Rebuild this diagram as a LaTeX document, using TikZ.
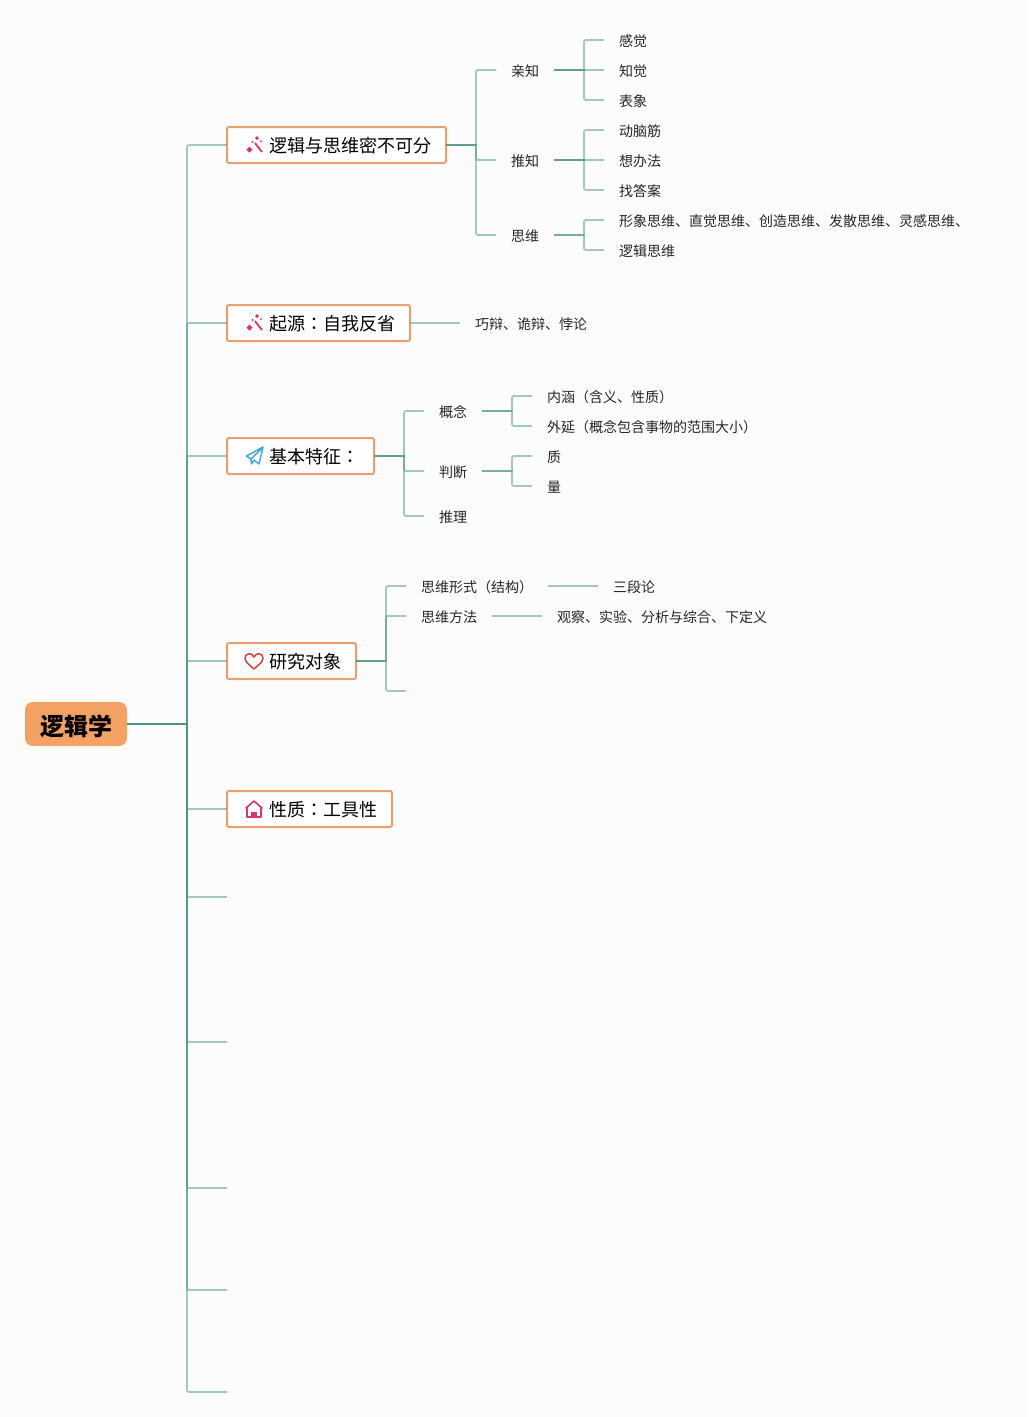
\documentclass[tikz,border=0pt]{standalone}
\usepackage{fontspec}
\setmainfont{Noto Sans CJK JP}
\definecolor{pagebg}{HTML}{FCFCFC}
\definecolor{linkgreen}{HTML}{4A9580}
\definecolor{boxorange}{HTML}{E9A06F}
\definecolor{rootorange}{HTML}{F4A264}
\definecolor{wandpink}{HTML}{E0306A}
\definecolor{planeblue}{HTML}{3BA6DC}
\definecolor{heartred}{HTML}{D0433A}
\definecolor{housepink}{HTML}{D8366C}
\tikzset{
  rootbox/.style={fill=rootorange,rounded corners=8pt,anchor=west,inner xsep=15pt,inner ysep=0pt,
    minimum height=44pt,outer sep=0pt,font=\fontsize{24}{24}\selectfont\bfseries,text height=22pt,text depth=0pt},
  mainbox/.style={draw=boxorange,fill=white,line width=2pt,rounded corners=2pt,anchor=west,inner xsep=15pt,
    inner ysep=0pt,minimum height=36pt,outer sep=0pt,font=\fontsize{18}{18}\selectfont,text height=16pt,text depth=1pt},
  leaf/.style={anchor=west,inner xsep=15pt,inner ysep=0pt,outer sep=0pt,
    font=\fontsize{14}{14}\selectfont,text height=13pt,text depth=1pt,text=black!85},
  branch/.style={draw=linkgreen,draw opacity=0.5,line width=1.8pt},
  softcorner/.style={rounded corners=2pt},
  wandicon/.pic={
    \draw[wandpink,line width=1.8pt] (9,-2) -- (16,7);
    \fill[wandpink] (3.5,1.5) -- (6.5,4.5) -- (3.5,7.5) -- (0.5,4.5) -- cycle;
    \fill[wandpink] (11,-9) -- (13,-7) -- (11,-5) -- (9,-7) -- cycle;
    \fill[wandpink] (6.5,-3) circle (1.2);
    \fill[wandpink] (15,-4) circle (1);
  },
  planeicon/.pic={
    \draw[planeblue,line width=1.4pt,line join=round] (17,-9) -- (0.5,0) -- (5,3) -- (17,-9) -- (13,8) -- (8,4)
      -- (5.5,8) -- (5,3);
  },
  hearticon/.pic={
    \draw[heartred,line width=1.5pt,line join=round] (9,8) .. controls (4,3.5) and (0,1) .. (0,-3)
      .. controls (0,-8) and (7,-9) .. (9,-4) .. controls (11,-9) and (18,-8) .. (18,-3)
      .. controls (18,1) and (14,3.5) .. (9,8) -- cycle;
  },
  houseicon/.pic={
    \draw[housepink,line width=1.6pt,line join=round] (1,-1) -- (9,-8) -- (17,-1) -- (16,-1) -- (16,8) -- (2,8) -- (2,-1) -- cycle;
    \fill[housepink] (6,8) -- (6,3) -- (12,3) -- (12,8) -- cycle;
  }
}
\begin{document}
\begin{tikzpicture}[x=1pt,y=-1pt]
  % Page
  \fill[pagebg] (0,0) rectangle (1029,1417);
  \useasboundingbox (0,0) rectangle (1029,1417);

  % Root and main topics
  \node[rootbox] (root) at (25,724) {逻辑学};
  \node[mainbox] (mainA) at (227,145) {\hspace*{27pt}逻辑与思维密不可分};
  \node[mainbox] (mainB) at (227,323) {\hspace*{27pt}起源：自我反省};
  \node[mainbox] (mainC) at (227,456) {\hspace*{27pt}基本特征：};
  \node[mainbox] (mainD) at (227,661) {\hspace*{27pt}研究对象};
  \node[mainbox] (mainE) at (227,809) {\hspace*{27pt}性质：工具性};

  % Icons
  \pic at ([xshift=19pt]mainA.west) {wandicon};
  \pic at ([xshift=19pt]mainB.west) {wandicon};
  \pic at ([xshift=19pt]mainC.west) {planeicon};
  \pic at ([xshift=18pt]mainD.west) {hearticon};
  \pic at ([xshift=18pt]mainE.west) {houseicon};

  % Empty ends of the root
  \coordinate (rootfork) at (187,724);
  \coordinate (emptyA) at (227,897);
  \coordinate (emptyB) at (227,1042);
  \coordinate (emptyC) at (227,1188);
  \coordinate (emptyD) at (227,1290);
  \coordinate (emptyE) at (227,1392);

  % Root links
  \draw[branch] (root.east) -- (rootfork) [softcorner] |- (mainA.west);
  \draw[branch] (root.east) -- (rootfork) [softcorner] |- (mainB.west);
  \draw[branch] (root.east) -- (rootfork) [softcorner] |- (mainC.west);
  \draw[branch] (root.east) -- (rootfork) [softcorner] |- (mainD.west);
  \draw[branch] (root.east) -- (rootfork) [softcorner] |- (mainE.west);
  \draw[branch] (root.east) -- (rootfork) [softcorner] |- (emptyA);
  \draw[branch] (root.east) -- (rootfork) [softcorner] |- (emptyB);
  \draw[branch] (root.east) -- (rootfork) [softcorner] |- (emptyC);
  \draw[branch] (root.east) -- (rootfork) [softcorner] |- (emptyD);
  \draw[branch] (root.east) -- (rootfork) [softcorner] |- (emptyE);

  % First topic
  \coordinate (forkA) at (476,145);
  \node[leaf] (qinzhi) at (496,70) {亲知};
  \node[leaf] (tuizhi) at (496,160) {推知};
  \node[leaf] (siwei) at (496,235) {思维};
  \draw[branch] (mainA.east) -- (forkA) [softcorner] |- (qinzhi.west);
  \draw[branch] (mainA.east) -- (forkA) [softcorner] |- (tuizhi.west);
  \draw[branch] (mainA.east) -- (forkA) [softcorner] |- (siwei.west);

  \coordinate (forkQ) at (584,70);
  \node[leaf] (ganjue) at (604,40) {感觉};
  \node[leaf] (zhijue) at (604,70) {知觉};
  \node[leaf] (biaoxiang) at (604,100) {表象};
  \draw[branch] (qinzhi.east) -- (forkQ) [softcorner] |- (ganjue.west);
  \draw[branch] (qinzhi.east) -- (zhijue.west);
  \draw[branch] (qinzhi.east) -- (forkQ) [softcorner] |- (biaoxiang.west);

  \coordinate (forkT) at (584,160);
  \node[leaf] (naojin) at (604,130) {动脑筋};
  \node[leaf] (banfa) at (604,160) {想办法};
  \node[leaf] (daan) at (604,190) {找答案};
  \draw[branch] (tuizhi.east) -- (forkT) [softcorner] |- (naojin.west);
  \draw[branch] (tuizhi.east) -- (banfa.west);
  \draw[branch] (tuizhi.east) -- (forkT) [softcorner] |- (daan.west);

  \coordinate (forkS) at (584,235);
  \node[leaf] (xingxiang) at (604,220) {形象思维、直觉思维、创造思维、发散思维、灵感思维、};
  \node[leaf] (luoji) at (604,250) {逻辑思维};
  \draw[branch] (siwei.east) -- (forkS) [softcorner] |- (xingxiang.west);
  \draw[branch] (siwei.east) -- (forkS) [softcorner] |- (luoji.west);

  % Second topic
  \node[leaf] (qiaobian) at (460,323) {巧辩、诡辩、悖论};
  \draw[branch] (mainB.east) -- (qiaobian.west);

  % Third topic
  \coordinate (forkC) at (404,456);
  \node[leaf] (gainian) at (424,411) {概念};
  \node[leaf] (panduan) at (424,471) {判断};
  \node[leaf] (tuili) at (424,516) {推理};
  \draw[branch] (mainC.east) -- (forkC) [softcorner] |- (gainian.west);
  \draw[branch] (mainC.east) -- (forkC) [softcorner] |- (panduan.west);
  \draw[branch] (mainC.east) -- (forkC) [softcorner] |- (tuili.west);

  \coordinate (forkG) at (512,411);
  \node[leaf] (neihan) at (532,396) {内涵（含义、性质）};
  \node[leaf] (waiyan) at (532,426) {外延（概念包含事物的范围大小）};
  \draw[branch] (gainian.east) -- (forkG) [softcorner] |- (neihan.west);
  \draw[branch] (gainian.east) -- (forkG) [softcorner] |- (waiyan.west);

  \coordinate (forkP) at (512,471);
  \node[leaf] (zhi) at (532,456) {质};
  \node[leaf] (liang) at (532,486) {量};
  \draw[branch] (panduan.east) -- (forkP) [softcorner] |- (zhi.west);
  \draw[branch] (panduan.east) -- (forkP) [softcorner] |- (liang.west);

  % Fourth topic
  \coordinate (forkD) at (386,661);
  \coordinate (emptyF) at (406,691);
  \node[leaf] (xingshi) at (406,586) {思维形式（结构）};
  \node[leaf] (fangfa) at (406,616) {思维方法};
  \draw[branch] (mainD.east) -- (forkD) [softcorner] |- (xingshi.west);
  \draw[branch] (mainD.east) -- (forkD) [softcorner] |- (fangfa.west);
  \draw[branch] (mainD.east) -- (forkD) [softcorner] |- (emptyF);

  \node[leaf] (sanduan) at (598,586) {三段论};
  \node[leaf] (guancha) at (542,616) {观察、实验、分析与综合、下定义};
  \draw[branch] (xingshi.east) -- (sanduan.west);
  \draw[branch] (fangfa.east) -- (guancha.west);
\end{tikzpicture}
\end{document}
